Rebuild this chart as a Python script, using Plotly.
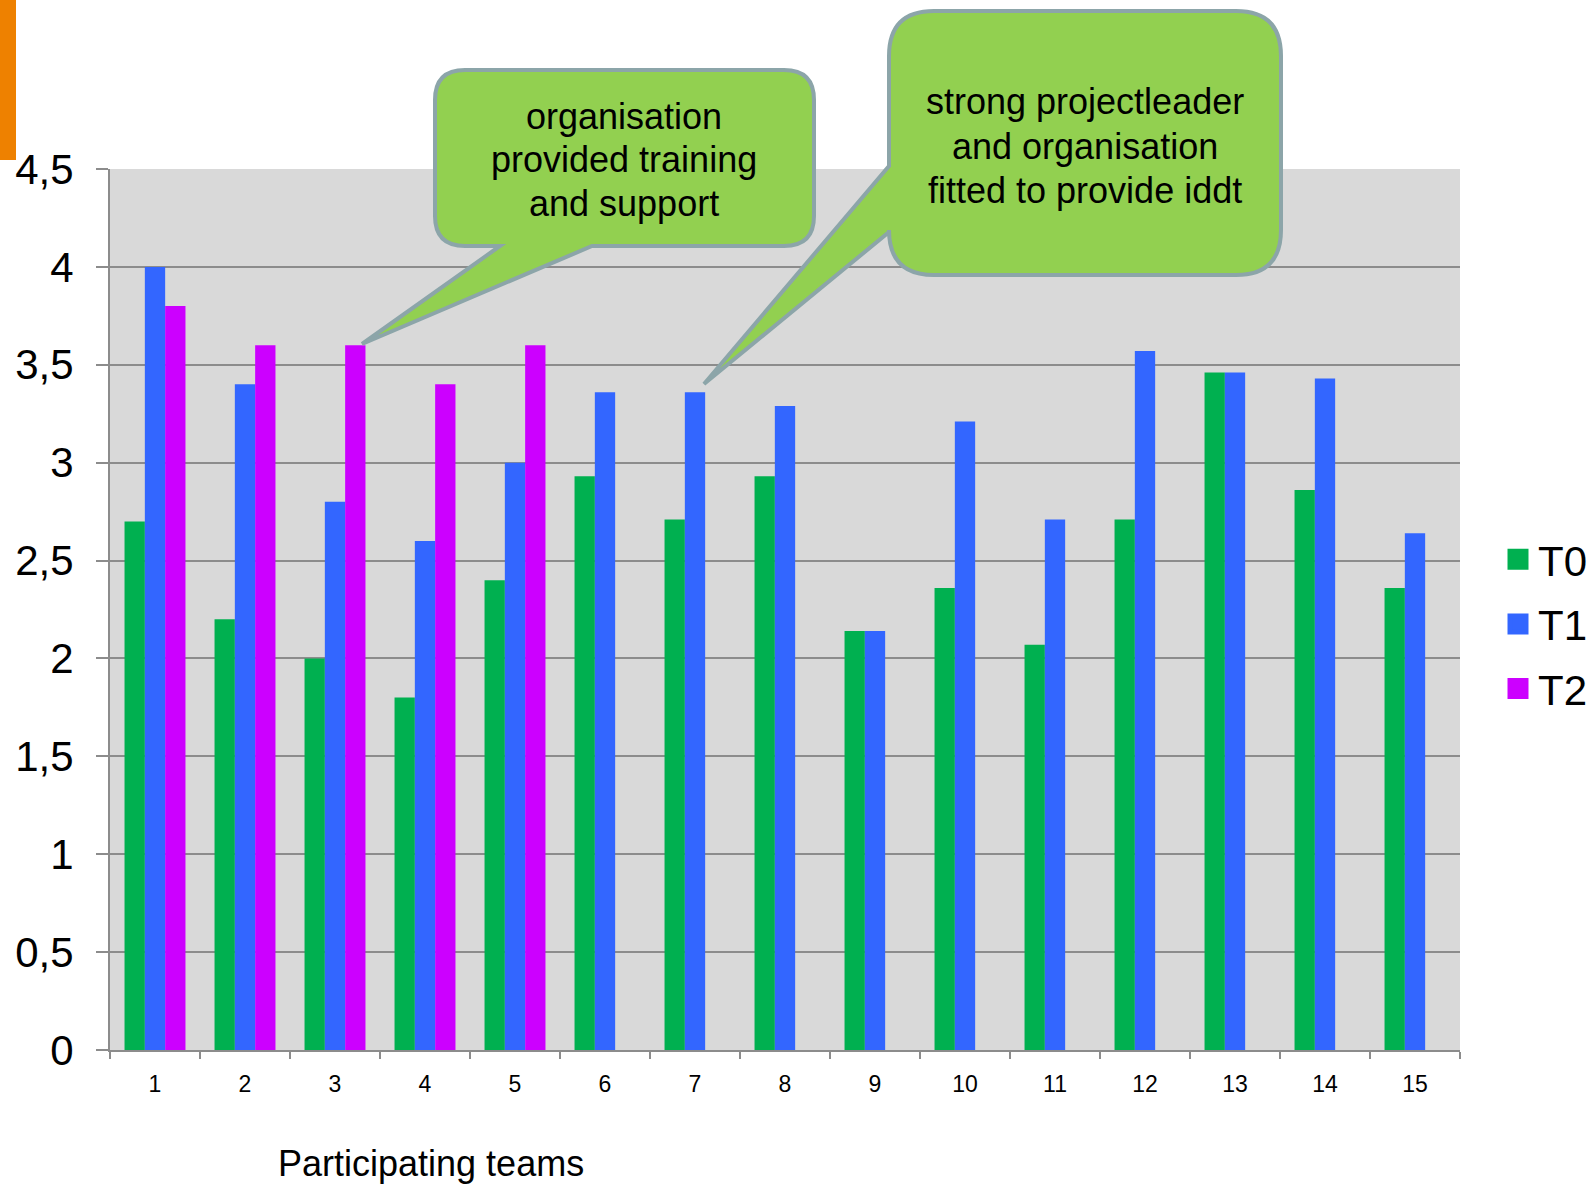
import plotly.graph_objects as go

# ---------------- data ----------------
teams = ["1", "2", "3", "4", "5", "6", "7", "8", "9", "10", "11", "12", "13", "14", "15"]
t0 = [2.70, 2.20, 2.00, 1.80, 2.40, 2.93, 2.71, 2.93, 2.14, 2.36, 2.07, 2.71, 3.46, 2.86, 2.36]
t1 = [4.00, 3.40, 2.80, 2.60, 3.00, 3.36, 3.36, 3.29, 2.14, 3.21, 2.71, 3.57, 3.46, 3.43, 2.64]
t2 = [3.80, 3.60, 3.60, 3.40, 3.60, None, None, None, None, None, None, None, None, None, None]
series_names = ["T0", "T1", "T2"]
series_colors = ["#00b050", "#3366ff", "#cc00ff"]
y_ticks = [0, 0.5, 1, 1.5, 2, 2.5, 3, 3.5, 4, 4.5]

callout1_lines = ["organisation", "provided training", "and support"]
callout2_lines = ["strong projectleader", "and organisation", "fitted to provide iddt"]
x_title = "Participating teams"

# ---------------- geometry helpers ----------------
W, H = 1592, 1186
PL, PR, PT, PB = 110, 1460, 169, 1050
FONT = "Liberation Sans, Arial, sans-serif"


def px(xp):
    return (xp - PL) / (PR - PL)


def py(yp):
    return (PB - yp) / (PB - PT)


def P(xp, yp):
    return f"{px(xp):.5f},{py(yp):.5f}"


fig = go.Figure()
for name, vals, col in zip(series_names, [t0, t1, t2], series_colors):
    fig.add_trace(go.Bar(x=teams, y=vals, name=name, marker=dict(color=col, line=dict(width=0)),
                         showlegend=False, legendgroup=name))
    fig.add_trace(go.Scatter(x=[None], y=[None], mode="markers", name=name, legendgroup=name,
                             marker=dict(symbol="square", size=16, color=col,
                                         line=dict(color=col, width=5))))

# callout 1 (bubble with tail at bottom)
L1, R1, T1, B1, r1 = 435, 814, 70, 246, 30
tail1 = [(592, B1), (362, 344), (500, B1)]
path1 = (f"M{P(L1 + r1, T1)} L{P(R1 - r1, T1)} Q{P(R1, T1)} {P(R1, T1 + r1)} "
         f"L{P(R1, B1 - r1)} Q{P(R1, B1)} {P(R1 - r1, B1)} "
         f"L{P(*tail1[0])} L{P(*tail1[1])} L{P(*tail1[2])} "
         f"L{P(L1 + r1, B1)} Q{P(L1, B1)} {P(L1, B1 - r1)} "
         f"L{P(L1, T1 + r1)} Q{P(L1, T1)} {P(L1 + r1, T1)} Z")

# callout 2 (bubble with tail at left)
L2, R2, T2, B2, r2 = 889, 1281, 11, 275, 45
tail2 = [(L2, 232), (704, 384), (L2, 166)]
path2 = (f"M{P(L2 + r2, T2)} L{P(R2 - r2, T2)} Q{P(R2, T2)} {P(R2, T2 + r2)} "
         f"L{P(R2, B2 - r2)} Q{P(R2, B2)} {P(R2 - r2, B2)} "
         f"L{P(L2 + r2, B2)} Q{P(L2, B2)} {P(L2, B2 - r2)} "
         f"L{P(*tail2[0])} L{P(*tail2[1])} L{P(*tail2[2])} "
         f"L{P(L2, T2 + r2)} Q{P(L2, T2)} {P(L2 + r2, T2)} Z")

shapes = [
    dict(type="rect", xref="paper", yref="paper", x0=px(0), x1=px(16), y0=py(0), y1=py(160),
         fillcolor="#ee8100", line=dict(width=0), layer="above"),
    dict(type="path", xref="paper", yref="paper", path=path1, fillcolor="#92d050",
         line=dict(color="#8ca5a9", width=4), layer="above"),
    dict(type="path", xref="paper", yref="paper", path=path2, fillcolor="#92d050",
         line=dict(color="#8ca5a9", width=4), layer="above"),
]

annotations = []
for i, line in enumerate(callout1_lines):
    annotations.append(dict(text=line, xref="paper", yref="paper", x=px(624), y=py(116 + 44 * i),
                            xanchor="center", yanchor="middle", showarrow=False,
                            font=dict(family=FONT, size=36, color="black")))
for i, line in enumerate(callout2_lines):
    annotations.append(dict(text=line, xref="paper", yref="paper", x=px(1085), y=py(102 + 44 * i),
                            xanchor="center", yanchor="middle", showarrow=False,
                            font=dict(family=FONT, size=36, color="black")))
annotations.append(dict(text=x_title, xref="paper", yref="paper", x=px(431), y=py(1163),
                        xanchor="center", yanchor="middle", showarrow=False,
                        font=dict(family=FONT, size=36, color="black")))

fig.update_layout(
    width=W, height=H,
    margin=dict(l=PL, r=W - PR, t=PT, b=H - PB, pad=0, autoexpand=False),
    paper_bgcolor="white", plot_bgcolor="#d9d9d9",
    barmode="group", bargap=0.323, bargroupgap=0,
    separators=",.",
    font=dict(family=FONT, color="black"),
    shapes=shapes, annotations=annotations,
    legend=dict(x=px(1498), y=py(624), xanchor="left", yanchor="middle",
                font=dict(family=FONT, size=42, color="black"),
                bgcolor="rgba(0,0,0,0)", tracegroupgap=7, itemwidth=30),
    xaxis=dict(type="category", categoryorder="array", categoryarray=teams,
               showgrid=False, zeroline=False, showline=True, linecolor="#8c8c8c", linewidth=2,
               ticks="outside", tickson="boundaries", ticklen=7, tickwidth=2, tickcolor="#8c8c8c",
               tickfont=dict(family=FONT, size=23, color="black"), ticklabelstandoff=12),
    yaxis=dict(range=[0, 4.5], tickvals=y_ticks, showgrid=True, gridcolor="#8c8c8c", gridwidth=2,
               zeroline=False, showline=True, linecolor="#8c8c8c", linewidth=2,
               ticks="outside", ticklen=12, tickwidth=2, tickcolor="#8c8c8c",
               tickfont=dict(family=FONT, size=42, color="black"), ticklabelstandoff=14),
)

fig.write_html("out.html")
